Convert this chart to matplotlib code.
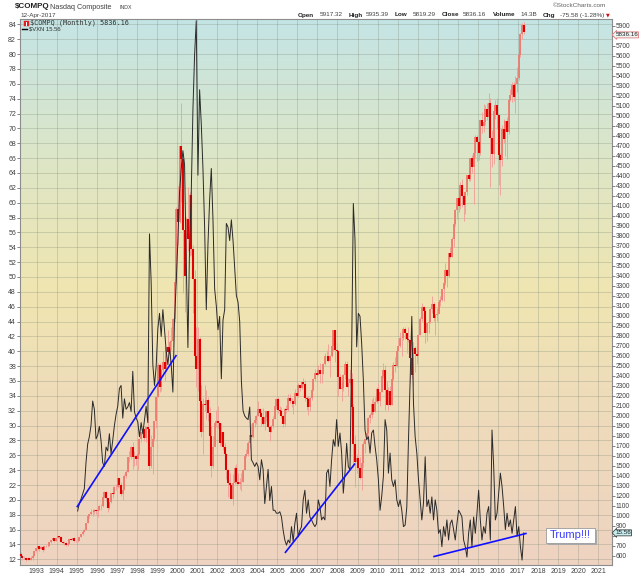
import numpy as np
import pandas as pd
import matplotlib
matplotlib.use("Agg")
import matplotlib.pyplot as plt
from matplotlib.colors import LinearSegmentedColormap
from matplotlib.patches import Rectangle

plt.rcParams["font.family"] = "Liberation Sans"

# $COMPQ monthly bars, Mar 1992 .. Apr 2017 (close / high / low)
comp_first_open = 622
comp_close = [
    604, 579, 585, 564, 581, 563, 583, 605, 653, 677,
    696, 671, 690, 661, 701, 704, 705, 743, 763, 779, 754, 777,
    801, 793, 744, 734, 735, 706, 722, 766, 764, 778, 750, 752,
    755, 794, 817, 844, 865, 934, 1001, 1020, 1044, 1036, 1059, 1052,
    1060, 1100, 1101, 1191, 1243, 1185, 1081, 1142, 1227, 1222, 1293, 1291,
    1380, 1309, 1222, 1261, 1400, 1442, 1594, 1587, 1686, 1594, 1601, 1570,
    1619, 1771, 1836, 1868, 1779, 1895, 1872, 1499, 1694, 1771, 1950, 2193,
    2506, 2288, 2461, 2543, 2471, 2686, 2639, 2739, 2746, 2966, 3336, 4069,
    3940, 4697, 4573, 3861, 3401, 3966, 3767, 4206, 3673, 3370, 2598, 2471,
    2773, 2152, 1840, 2116, 2111, 2161, 2027, 1805, 1499, 1690, 1931, 1950,
    1934, 1732, 1845, 1688, 1616, 1463, 1328, 1315, 1172, 1330, 1479, 1336,
    1321, 1338, 1341, 1464, 1596, 1623, 1735, 1810, 1787, 1932, 1960, 2003,
    2066, 2030, 1994, 1920, 1987, 2048, 1887, 1838, 1897, 1975, 2097, 2175,
    2062, 2052, 1999, 1922, 2068, 2057, 2185, 2152, 2152, 2120, 2233, 2205,
    2306, 2281, 2340, 2323, 2179, 2172, 2092, 2184, 2258, 2367, 2432, 2415,
    2464, 2416, 2422, 2525, 2605, 2603, 2546, 2596, 2702, 2859, 2661, 2652,
    2390, 2272, 2279, 2413, 2523, 2293, 2326, 2368, 2092, 1721, 1536, 1577,
    1476, 1378, 1529, 1717, 1774, 1835, 1979, 2009, 2122, 2045, 2145, 2269,
    2147, 2238, 2398, 2461, 2257, 2109, 2255, 2114, 2369, 2507, 2498, 2653,
    2700, 2782, 2781, 2874, 2835, 2774, 2756, 2580, 2415, 2684, 2620, 2605,
    2814, 2967, 3092, 3046, 2827, 2935, 2940, 3067, 3116, 2977, 3010, 3020,
    3142, 3160, 3268, 3329, 3456, 3403, 3626, 3590, 3772, 3920, 4060, 4177,
    4104, 4308, 4199, 4115, 4243, 4408, 4370, 4580, 4493, 4631, 4792, 4736,
    4635, 4964, 4901, 4941, 5070, 4987, 5128, 4777, 4620, 5054, 5109, 5007,
    4614, 4558, 4870, 4775, 4948, 4843, 5162, 5213, 5312, 5189, 5324, 5383,
    5615, 5825, 5912, 5836.16,
]
comp_high = [
    640, 608, 600, 590, 590, 585, 597, 610, 655, 682,
    705, 700, 698, 692, 702, 712, 712, 744, 765, 787, 783, 778,
    801, 804, 797, 749, 746, 745, 726, 766, 779, 782, 791, 758,
    764, 794, 818, 844, 866, 934, 1004, 1021, 1069, 1066, 1069, 1070,
    1063, 1111, 1120, 1191, 1250, 1249, 1185, 1145, 1227, 1250, 1296, 1316,
    1380, 1383, 1340, 1261, 1422, 1460, 1594, 1646, 1697, 1745, 1653, 1612,
    1627, 1771, 1843, 1911, 1882, 1895, 2014, 1873, 1809, 1774, 1951, 2193,
    2534, 2533, 2467, 2652, 2610, 2688, 2864, 2763, 2887, 2977, 3450, 4091,
    4303, 4697, 5132, 4628, 3911, 3987, 4289, 4244, 4259, 3713, 3459, 2892,
    2892, 2790, 2314, 2180, 2313, 2260, 2194, 2088, 1900, 1800, 1941, 2065,
    2098, 1934, 1929, 1845, 1735, 1634, 1475, 1426, 1321, 1418, 1499, 1521,
    1426, 1383, 1431, 1471, 1601, 1673, 1754, 1810, 1916, 1942, 1968, 2010,
    2154, 2084, 2046, 2080, 2007, 2050, 2052, 1902, 1915, 1998, 2108, 2180,
    2191, 2099, 2093, 2006, 2084, 2110, 2220, 2219, 2178, 2156, 2273, 2278,
    2333, 2310, 2344, 2376, 2360, 2202, 2204, 2191, 2267, 2379, 2470, 2469,
    2508, 2532, 2463, 2534, 2626, 2660, 2725, 2612, 2707, 2861, 2857, 2729,
    2661, 2419, 2339, 2423, 2552, 2551, 2384, 2473, 2434, 2125, 1807, 1617,
    1667, 1595, 1552, 1749, 1775, 1877, 1995, 2028, 2167, 2190, 2195, 2295,
    2326, 2245, 2419, 2535, 2512, 2354, 2294, 2300, 2383, 2540, 2592, 2675,
    2766, 2841, 2800, 2887, 2888, 2832, 2888, 2759, 2643, 2744, 2704, 2712,
    2817, 2989, 3134, 3098, 3076, 2936, 2985, 3081, 3197, 3140, 3020, 3082,
    3154, 3203, 3270, 3335, 3532, 3474, 3627, 3694, 3795, 3940, 4070, 4177,
    4247, 4342, 4372, 4245, 4248, 4409, 4486, 4580, 4610, 4641, 4810, 4815,
    4777, 4964, 5042, 5120, 5111, 5132, 5232, 5176, 4864, 5096, 5165, 5177,
    4999, 4627, 4907, 4970, 4952, 4986, 5167, 5272, 5342, 5343, 5402, 5487,
    5669, 5835, 5928, 5935.39,
]
comp_low = [
    595, 560, 570, 548, 560, 556, 560, 564, 602, 645,
    664, 646, 668, 645, 662, 688, 687, 704, 730, 758, 740, 751,
    776, 783, 741, 716, 715, 702, 697, 722, 758, 756, 740, 736,
    743, 757, 790, 815, 836, 866, 934, 985, 1014, 1004, 1024, 1017,
    989, 1059, 1060, 1091, 1180, 1155, 1043, 1073, 1131, 1178, 1222, 1257,
    1280, 1295, 1202, 1157, 1263, 1381, 1443, 1544, 1570, 1466, 1500, 1508,
    1465, 1614, 1744, 1792, 1746, 1745, 1840, 1461, 1483, 1419, 1755, 1877,
    2193, 2239, 2249, 2398, 2355, 2442, 2631, 2505, 2658, 2694, 2943, 3320,
    3712, 3928, 4140, 3227, 3043, 3338, 3652, 3602, 3610, 3026, 2598, 2288,
    2251, 2140, 1793, 1619, 2048, 1966, 1946, 1805, 1387, 1480, 1698, 1886,
    1879, 1697, 1714, 1657, 1548, 1366, 1192, 1244, 1172, 1108, 1319, 1328,
    1317, 1271, 1253, 1344, 1460, 1589, 1603, 1676, 1760, 1784, 1886, 1918,
    2000, 2001, 1897, 1915, 1865, 1953, 1883, 1751, 1836, 1883, 1975, 2066,
    2030, 2024, 1985, 1890, 1904, 2032, 2055, 2129, 2090, 2025, 2110, 2196,
    2193, 2249, 2271, 2308, 2151, 2065, 2013, 2055, 2163, 2247, 2355, 2388,
    2412, 2329, 2331, 2423, 2513, 2550, 2538, 2386, 2589, 2652, 2540, 2570,
    2202, 2272, 2155, 2252, 2368, 2292, 2198, 2307, 1983, 1493, 1295, 1434,
    1456, 1375, 1265, 1495, 1627, 1784, 1727, 1930, 1977, 2024, 2044, 2134,
    2141, 2100, 2237, 2384, 2062, 2107, 2061, 2098, 2107, 2350, 2438, 2493,
    2653, 2690, 2603, 2762, 2766, 2629, 2737, 2331, 2377, 2298, 2441, 2518,
    2626, 2812, 2946, 2967, 2726, 2747, 2827, 2929, 3032, 2947, 2810, 2948,
    3076, 3104, 3149, 3154, 3312, 3295, 3392, 3578, 3587, 3694, 3897, 3973,
    4044, 4073, 4094, 3947, 4016, 4207, 4346, 4355, 4434, 4117, 4576, 4547,
    4563, 4610, 4834, 4844, 4909, 4963, 4910, 4292, 4487, 4523, 4967, 4867,
    4314, 4210, 4505, 4733, 4597, 4575, 4823, 5148, 5145, 5153, 5035, 5239,
    5357, 5591, 5769, 5819.29,
]

# $VXN monthly close, Jan 1995 .. Apr 2017
vxn_close = [
    18.5, 19.5, 20.1, 20.8, 21.5, 25.0, 27.5, 28.5, 30.0, 33.3, 32.2, 28.2,
    28.7, 29.9, 28.0, 25.0, 24.5, 27.1, 26.6, 28.9, 26.2, 28.0, 30.0, 31.5,
    32.6, 35.0, 35.4, 31.0, 33.6, 32.2, 32.5, 33.1, 31.9, 37.3, 31.9, 31.0,
    30.5, 28.5, 30.4, 28.9, 30.8, 32.6, 30.4, 55.8, 49.3, 38.2, 35.4, 38.0,
    43.0, 45.1, 42.0, 45.6, 42.9, 40.0, 38.2, 40.5, 38.2, 34.5, 44.2, 49.3,
    54.9, 61.4, 64.6, 67.0, 65.1, 52.1, 40.5, 54.4, 61.4, 72.5, 79.9, 84.5,
    63.7, 75.2, 70.6, 64.6, 56.7, 45.6, 54.4, 60.4, 64.6, 57.7, 48.4, 46.1,
    42.9, 44.7, 36.3, 44.2, 45.6, 57.2, 56.7, 54.9, 57.7, 54.9, 51.2, 47.5,
    46.6, 44.0, 36.0, 32.0, 31.3, 31.0, 30.8, 32.5, 25.4, 25.0, 24.5, 25.0,
    24.5, 22.7, 25.4, 24.1, 19.5, 21.8, 24.1, 19.9, 21.8, 18.6, 18.6, 18.2,
    18.2, 18.4, 17.7, 15.9, 14.6, 13.9, 14.6, 14.2, 16.4, 14.4, 16.8, 18.2,
    15.0, 15.9, 16.4, 20.0, 21.3, 18.2, 20.0, 17.7, 17.3, 16.8, 16.4, 16.8,
    20.0, 19.1, 17.3, 17.7, 17.3, 23.6, 24.1, 21.8, 25.4, 28.1, 27.2, 30.8,
    27.2, 29.0, 26.3, 20.9, 23.6, 27.6, 24.5, 24.0, 40.0, 59.9, 55.0, 40.6,
    45.1, 44.7, 41.0, 36.1, 29.4, 28.1, 28.5, 26.3, 29.0, 29.4, 27.2, 25.4,
    22.7, 18.6, 20.5, 23.2, 30.8, 29.4, 23.6, 26.3, 22.7, 21.8, 22.7, 20.0,
    19.1, 20.0, 18.6, 16.4, 16.6, 19.0, 28.0, 36.0, 44.7, 33.0, 28.5, 26.3,
    22.7, 20.0, 17.3, 19.6, 25.8, 19.1, 20.0, 18.2, 20.4, 17.3, 20.0, 18.6,
    15.5, 16.0, 13.7, 16.4, 15.1, 17.3, 14.6, 16.8, 17.3, 16.0, 14.6, 16.8,
    18.6, 18.2, 17.7, 14.6, 13.7, 12.3, 15.5, 17.3, 13.7, 17.7, 15.5, 18.2,
    21.3, 17.3, 14.6, 16.4, 15.5, 18.2, 19.1, 14.6, 29.4, 24.5, 17.3, 18.2,
    20.9, 23.6, 21.8, 19.1, 16.0, 18.2, 16.4, 17.3, 15.5, 17.3, 19.1, 15.1,
    16.4, 13.7, 11.9, 15.56,
]

# hand drawn trend lines (decimal year, VXN level)
trend_x = [(1995.0, 1999.97), (2005.38, 2008.88), (2012.78, 2017.44)]
trend_y = [(19.0, 39.5), (12.85, 24.9), (12.35, 15.5)]

years = list(range(1993, 2022))
vxn_ticks = list(range(12, 85, 2))
comp_ticks = list(range(600, 6000, 100))


def dec_year(dates):
    return np.array([d.year + (d.month - 0.5) / 12.0 for d in dates])


comp_x = dec_year(pd.date_range("1992-03-01", periods=len(comp_close), freq="MS"))
vxn_x = dec_year(pd.date_range("1995-01-01", periods=len(vxn_close), freq="MS"))

close = np.array(comp_close, dtype=float)
high = np.array(comp_high, dtype=float)
low = np.array(comp_low, dtype=float)
opn = np.concatenate([[comp_first_open], close[:-1]])
up = close >= opn

fig = plt.figure(figsize=(6.4, 5.76), dpi=100)
W, H = 640.0, 576.0
ax = fig.add_axes([20 / W, 11 / H, 591.7 / W, 546.5 / H])
axr = ax.twinx()
axv = ax.twinx()

# background gradient + grid on the base axes
bg = LinearSegmentedColormap.from_list(
    "bg", [(0, "#efd3c1"), (0.3, "#eedcba"), (0.5, "#f0e5b1"),
           (0.72, "#dfe6c4"), (1.0, "#c4e4e5")])
grad = np.linspace(0, 1, 256).reshape(-1, 1)
ax.imshow(grad, cmap=bg, aspect="auto", extent=[0, 1, 0, 1],
          transform=ax.transAxes, origin="lower", zorder=0.1)
ax.set_axisbelow(True)
ax.grid(True, color="#7f8a78", alpha=0.35, linewidth=0.6)

xlim = (1992.167, 2021.678)
vxn_lim = (11.233, 84.79)
comp_lim = (510, 5975)
for a in (ax, axr, axv):
    a.set_xlim(xlim)
ax.set_ylim(vxn_lim)
axv.set_ylim(vxn_lim)
axr.set_ylim(comp_lim)

# Nasdaq candles
axr.vlines(comp_x, low, high, colors="#f0a49a", linewidth=0.7)
axr.vlines(comp_x[up], opn[up], close[up], colors="#ee7468", linewidth=1.2)
axr.vlines(comp_x[~up], close[~up], opn[~up], colors="#e30000", linewidth=1.5)

# VXN line and trend lines
axv.plot(vxn_x, vxn_close, color="#2a2a2a", linewidth=0.7)
for tx, ty in zip(trend_x, trend_y):
    axv.plot(tx, ty, color="#1010ff", linewidth=1.2, solid_capstyle="butt")

# axes and ticks
ax.set_xticks(years)
ax.set_xticklabels([str(y) for y in years])
ax.tick_params(axis="x", length=0, pad=2.2, labelsize=5, labelcolor="#404040")
ax.set_yticks(vxn_ticks)
ax.set_yticklabels([str(v) for v in vxn_ticks])
ax.tick_params(axis="y", direction="out", length=2.2, width=0.6, color="#707070",
               labelsize=5, pad=0.6, labelcolor="#404040")
axr.set_yticks(comp_ticks)
axr.set_yticklabels(["" if v in (800, 5800) else str(v) for v in comp_ticks])
axr.tick_params(axis="y", direction="out", length=2.2, width=0.6, color="#707070",
                labelsize=4.8, pad=0.8, labelcolor="#404040")
axv.set_yticks([])
for s in ax.spines.values():
    s.set_color("#8c8c8c")
    s.set_linewidth(0.8)
for a in (axr, axv):
    for s in a.spines.values():
        s.set_visible(False)

# last value tags on the right
axr.text(1.006, comp_close[-1], "5836.16", transform=axr.get_yaxis_transform(),
         ha="left", va="top", fontsize=4.5, color="#202020", clip_on=False,
         bbox=dict(boxstyle="larrow,pad=0.08", fc="#eef6f4", ec="#e07a7a", lw=0.6),
         zorder=5)
axv.text(1.006, vxn_close[-1], "15.56", transform=axv.get_yaxis_transform(),
         ha="left", va="center", fontsize=4.5, color="#202020", clip_on=False,
         bbox=dict(boxstyle="larrow,pad=0.08", fc="#c6eef0", ec="#404040", lw=0.6),
         zorder=5)

# header
def ftxt(x, y, s, **kw):
    fig.text(x / W, 1 - y / H, s, va="center", ha="left", **kw)

ftxt(15, 7, r"\$COMPQ", fontsize=5.8, weight="bold", color="#202020")
ftxt(50, 7.5, "Nasdaq Composite", fontsize=5.2, color="#404040")
ftxt(119, 7.5, "INDX", fontsize=3.8, color="#404040")
ftxt(20, 15, "12-Apr-2017", fontsize=4.6, color="#404040")
ftxt(553, 5.5, "\u00a9StockCharts.com", fontsize=4.6, color="#606060")

hdr = [(298, "Open", True), (320, "5917.32", False), (349, "High", True),
       (366, "5935.39", False), (395, "Low", True), (413, "5819.29", False),
       (442, "Close", True), (463, "5836.16", False), (493, "Volume", True),
       (520, "14.3B", False), (543, "Chg", True), (560, "-75.58 (-1.28%)", False)]
for x, s, b in hdr:
    ftxt(x, 15, s, fontsize=4.6, weight="bold" if b else "normal",
         color="#202020" if b else "#404040")
ftxt(606, 15, "\u25bc", fontsize=3.5, color="#d01010", family="DejaVu Sans")

# legend inside the plot
fig.patches.append(Rectangle((24 / W, 1 - 26 / H), 4.5 / W, 5 / H, transform=fig.transFigure,
                             fc="#e02020", ec="#e02020", lw=0.3))
fig.patches.append(Rectangle((25.8 / W, 1 - 25.5 / H), 0.9 / W, 4 / H, transform=fig.transFigure,
                             fc="white", ec="none"))
ftxt(30, 22.8, r"\$COMPQ (Monthly) 5836.16", fontsize=4.9, family="DejaVu Sans Mono",
     color="#303030")
fig.lines.append(plt.Line2D([22 / W, 27 / W], [1 - 28.8 / H, 1 - 28.8 / H],
                            transform=fig.transFigure, color="black", lw=1.0))
ftxt(29, 28.8, r"\$VXN 15.56", fontsize=4.2, color="#303030")

# Trump!!! note box
fig.patches.append(Rectangle((548 / W, 1 - 545 / H), 49 / W, 15 / H, transform=fig.transFigure,
                             fc="#a8a8a8", ec="none", zorder=6))
fig.patches.append(Rectangle((546 / W, 1 - 543 / H), 49 / W, 15 / H, transform=fig.transFigure,
                             fc="white", ec="#9a9a9a", lw=0.6, zorder=7))
fig.text(570.5 / W, 1 - 535.5 / H, "Trump!!!", ha="center", va="center", fontsize=8,
         color="#3c3cff", zorder=8)

fig.savefig("out.png", dpi=100)
